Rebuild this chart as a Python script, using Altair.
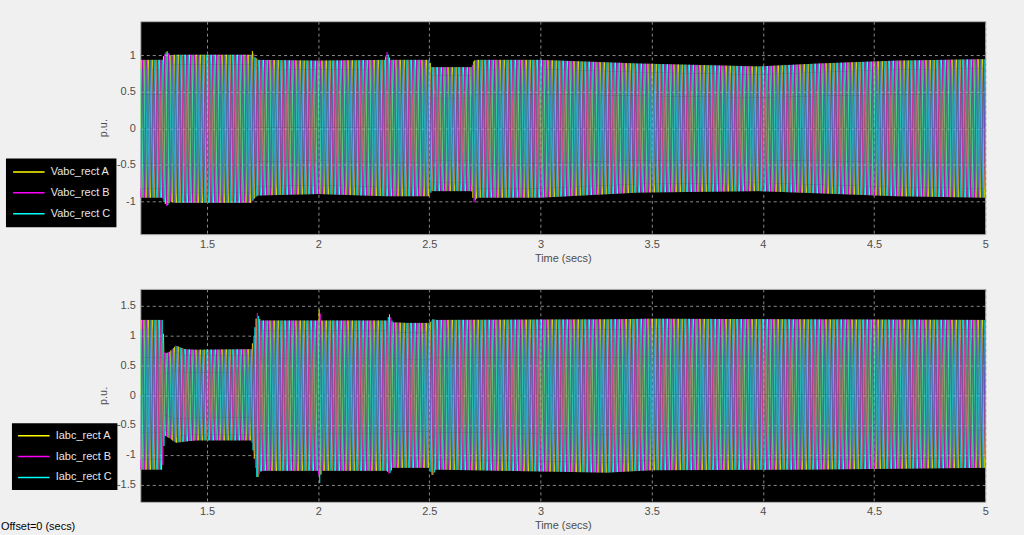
import numpy as np
import pandas as pd
import altair as alt

alt.data_transformers.disable_max_rows()

# ---------------- data ----------------
FREQ_HZ = 60              # supply frequency of the three-phase signals
SAMPLES_PER_CYCLE = 12
T_START, T_END = 1.2, 5.0

phase_shift_deg = [0, -120, 120]
phase_colors = ["#ffff00", "#ff00ff", "#00ffff"]

v_names = ["Vabc_rect A", "Vabc_rect B", "Vabc_rect C"]
i_names = ["Iabc_rect A", "Iabc_rect B", "Iabc_rect C"]

# voltage envelope (upper / lower peak, p.u.) read at these times (s)
v_env_t = [1.20, 1.30, 1.305, 1.32, 1.335, 1.35, 1.70, 1.705, 1.715, 1.73, 2.00,
           2.30, 2.31, 2.325, 2.50, 2.51, 2.69, 2.70, 2.715, 3.00, 3.44, 3.98,
           4.25, 4.60, 5.00]
v_env_hi = [0.94, 0.94, 1.00, 1.06, 1.00, 1.01, 1.01, 1.07, 0.98, 0.94, 0.93,
            0.94, 1.05, 0.94, 0.94, 0.84, 0.84, 0.93, 0.94, 0.94, 0.89, 0.85,
            0.89, 0.93, 0.95]
v_env_lo = [-0.95, -0.95, -1.00, -1.07, -1.00, -1.02, -1.02, -1.00, -0.95, -0.92,
            -0.90, -0.93, -0.93, -0.93, -0.93, -0.86, -0.86, -1.02, -0.95, -0.95,
            -0.88, -0.86, -0.89, -0.93, -0.95]

# current envelope (upper / lower peak, p.u.)
i_env_t = [1.20, 1.30, 1.31, 1.33, 1.36, 1.40, 1.45, 1.70, 1.71, 1.725, 1.74,
           1.76, 2.00, 2.005, 2.015, 2.03, 2.31, 2.32, 2.335, 2.40, 2.50, 2.515,
           2.53, 3.30, 3.50, 4.20, 5.00]
i_env_hi = [1.26, 1.26, 0.70, 0.72, 0.83, 0.77, 0.76, 0.77, 1.00, 1.39, 1.25,
            1.25, 1.25, 1.47, 1.25, 1.25, 1.25, 1.36, 1.22, 1.21, 1.21, 1.27,
            1.26, 1.27, 1.28, 1.27, 1.26]
i_env_lo = [-1.25, -1.25, -0.68, -0.72, -0.80, -0.78, -0.76, -0.76, -1.00, -1.41,
            -1.28, -1.27, -1.27, -1.52, -1.27, -1.27, -1.27, -1.33, -1.22, -1.22,
            -1.22, -1.36, -1.25, -1.30, -1.26, -1.25, -1.22]

x_ticks = [1.5, 2, 2.5, 3, 3.5, 4, 4.5, 5]
v_ticks = [-1, -0.5, 0, 0.5, 1]
i_ticks = [-1.5, -1, -0.5, 0, 0.5, 1, 1.5]
v_domain = [-1.45, 1.47]
i_domain = [-1.79, 1.78]


def build_table(names, env_t, env_hi, env_lo):
    dt = 1.0 / (FREQ_HZ * SAMPLES_PER_CYCLE)
    t = np.arange(T_START, T_END + dt / 2, dt)
    hi = np.interp(t, env_t, env_hi)
    lo = np.interp(t, env_t, env_lo)
    mid, half = (hi + lo) / 2, (hi - lo) / 2
    frames = []
    for name, sh in zip(names, phase_shift_deg):
        y = mid + half * np.sin(2 * np.pi * FREQ_HZ * t + np.deg2rad(sh))
        frames.append(pd.DataFrame({"t": t, "y": y, "phase": name}))
    return pd.concat(frames, ignore_index=True)


v_df = build_table(v_names, v_env_t, v_env_hi, v_env_lo)
i_df = build_table(i_names, i_env_t, i_env_hi, i_env_lo)

FONT = "Liberation Sans"
W, H = 849, 214
label_expr = "'' + datum.value"


def panel(df, names, ticks, domain, legend_x, legend_y, pad):
    x = alt.X("t:Q", title="Time (secs)",
              scale=alt.Scale(domain=[T_START, T_END], nice=False, zero=False),
              axis=alt.Axis(values=x_ticks, labelExpr=label_expr, grid=True,
                            gridColor="#8a8a8a", gridDash=[3, 3], gridOpacity=1,
                            ticks=False, domain=False, labelColor="#4d4d4d",
                            labelFont=FONT, labelFontSize=11, labelPadding=4,
                            titleColor="#4d4d4d", titleFont=FONT, titleFontSize=11,
                            titleFontWeight="normal", titlePadding=3,
                            labelFlush=False))
    y = alt.Y("y:Q", title="p.u.",
              scale=alt.Scale(domain=domain, nice=False, zero=False),
              axis=alt.Axis(values=ticks, labelExpr=label_expr, grid=True,
                            gridColor="#8a8a8a", gridDash=[3, 3], gridOpacity=1,
                            ticks=False, domain=False, labelColor="#4d4d4d",
                            labelFont=FONT, labelFontSize=11, labelPadding=5,
                            titleColor="#4d4d4d", titleFont=FONT, titleFontSize=11,
                            titleFontWeight="normal", titlePadding=8))
    color = alt.Color("phase:N",
                      scale=alt.Scale(domain=names, range=phase_colors),
                      legend=alt.Legend(title=None, orient="none",
                                        legendX=legend_x, legendY=legend_y,
                                        fillColor="black", padding=pad,
                                        symbolType="stroke", symbolSize=1000,
                                        symbolStrokeWidth=1.5, rowPadding=6,
                                        clipHeight=15, symbolOpacity=1,
                                        labelColor="#e6e6e6", labelFont=FONT,
                                        labelFontSize=11, labelOffset=5))
    return (alt.Chart(df).mark_line(strokeWidth=0.65, opacity=1, clip=True)
            .encode(x=x, y=y, color=color, order="t:Q")
            .properties(width=W, height=H))


top = panel(v_df, v_names, v_ticks, v_domain, -135, 138, 6)
bottom_lines = panel(i_df, i_names, i_ticks, i_domain, -129, 135, 5)
offset_text = (alt.Chart(pd.DataFrame({"label": ["Offset=0 (secs)"]}))
               .mark_text(align="left", baseline="middle", font=FONT, fontSize=11,
                          color="#000000")
               .encode(text="label:N", x=alt.value(-140), y=alt.value(239)))
bottom = alt.layer(bottom_lines, offset_text)

chart = (alt.vconcat(top, bottom, spacing=55, bounds="flush")
         .resolve_scale(color="independent")
         .resolve_legend(color="independent")
         .properties(background="#f0f0f0",
                     padding={"left": 0, "top": 19, "right": 35, "bottom": 2})
         .configure_view(fill="black", stroke="#b0b0b0", strokeWidth=1))

chart.save("out.html", embed_options={"renderer": "svg", "actions": False})
